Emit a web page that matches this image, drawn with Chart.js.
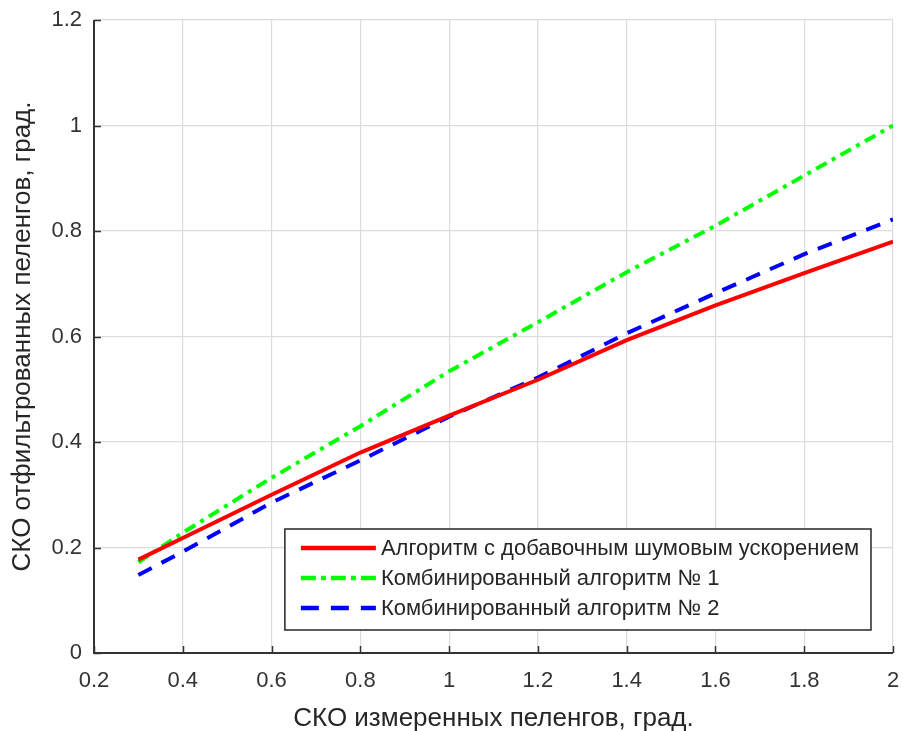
<!DOCTYPE html>
<html>
<head>
<meta charset="utf-8">
<script src="https://cdn.jsdelivr.net/npm/chart.js@4.4.1/dist/chart.umd.min.js"></script>
<style>
html,body{margin:0;padding:0;background:#fff;}
#wrap{width:903px;height:731px;}
</style>
</head>
<body>
<div id="wrap"><canvas id="c" width="903" height="731"></canvas></div>
<script>
const xValues = [0.3, 0.4, 0.6, 0.8, 1.0, 1.2, 1.4, 1.6, 1.8, 2.0];
const redValues = [0.177, 0.218, 0.300, 0.380, 0.450, 0.518, 0.593, 0.659, 0.720, 0.780];
const greenValues = [0.172, 0.228, 0.332, 0.430, 0.534, 0.627, 0.722, 0.810, 0.905, 1.000];
const blueValues = [0.148, 0.192, 0.285, 0.365, 0.448, 0.522, 0.606, 0.682, 0.756, 0.822];
const seriesNames = [
  'Алгоритм с добавочным шумовым ускорением',
  'Комбинированный алгоритм № 1',
  'Комбинированный алгоритм № 2'
];
const xTitle = 'СКО измеренных пеленгов, град.';
const yTitle = 'СКО отфильтрованных пеленгов, град.';

const FONT = '"Liberation Sans", Arial, sans-serif';
const pts = v => xValues.map((x, i) => ({x: x, y: v[i]}));

const inwardTicks = {
  id: 'inwardTicks',
  afterDraw(chart) {
    const ctx = chart.ctx, a = chart.chartArea;
    const xs = chart.scales.x, ys = chart.scales.y;
    ctx.save();
    ctx.strokeStyle = '#333333';
    ctx.lineWidth = 1.5;
    ctx.beginPath();
    xs.ticks.forEach(t => {
      const px = Math.round(xs.getPixelForValue(t.value)) + 0.5;
      ctx.moveTo(px, a.bottom); ctx.lineTo(px, a.bottom - 7);
    });
    ys.ticks.forEach(t => {
      const py = Math.round(ys.getPixelForValue(t.value)) + 0.5;
      ctx.moveTo(a.left, py); ctx.lineTo(a.left + 7, py);
    });
    ctx.stroke();
    ctx.lineWidth = 2;
    ctx.beginPath();
    ctx.moveTo(a.left, a.top); ctx.lineTo(a.left, a.bottom); ctx.lineTo(a.right, a.bottom);
    ctx.stroke();
    ctx.restore();
  }
};

const boxLegend = {
  id: 'boxLegend',
  afterDatasetsDraw(chart) {
    const ctx = chart.ctx, a = chart.chartArea;
    const ds = chart.data.datasets;
    ctx.save();
    ctx.font = '22px ' + FONT;
    let maxW = 0;
    ds.forEach(d => { maxW = Math.max(maxW, ctx.measureText(d.label).width); });
    const lineLen = 75, gap = 5, padL = 16, padR = 12, rowH = 30;
    const w = padL + lineLen + gap + maxW + padR;
    const h = 101;
    const right = a.right - 22, bottom = a.bottom - 23;
    const left = right - w, top = bottom - h;
    ctx.fillStyle = '#fff';
    ctx.fillRect(left, top, w, h);
    ctx.strokeStyle = '#262626';
    ctx.lineWidth = 1.5;
    ctx.strokeRect(left, top, w, h);
    ds.forEach((d, i) => {
      const cy = top + 19 + i * rowH;
      ctx.beginPath();
      ctx.strokeStyle = d.borderColor;
      ctx.lineWidth = d.borderWidth + 0.5;
      ctx.setLineDash(d.legendDash || []);
      ctx.moveTo(left + padL, cy); ctx.lineTo(left + padL + lineLen, cy);
      ctx.stroke();
      ctx.setLineDash([]);
      ctx.fillStyle = '#262626';
      ctx.textBaseline = 'middle';
      ctx.textAlign = 'left';
      ctx.fillText(d.label, left + padL + lineLen + gap, cy + 1);
    });
    ctx.restore();
  }
};

new Chart(document.getElementById('c'), {
  type: 'line',
  data: {
    datasets: [
      {label: seriesNames[0], data: pts(redValues), borderColor: '#ff0000', borderWidth: 4, pointRadius: 0, fill: false, tension: 0},
      {label: seriesNames[1], data: pts(greenValues), borderColor: '#00ff00', borderWidth: 4, borderDash: [12, 6, 4, 6], legendDash: [15, 5, 5, 5], pointRadius: 0, fill: false, tension: 0},
      {label: seriesNames[2], data: pts(blueValues), borderColor: '#0000ff', borderWidth: 4, borderDash: [15, 11], legendDash: [18, 12], pointRadius: 0, fill: false, tension: 0}
    ]
  },
  options: {
    responsive: false,
    animation: false,
    devicePixelRatio: 1,
    layout: {padding: {top: 20, right: 10, left: 0, bottom: 0}},
    plugins: {legend: {display: false}, tooltip: {enabled: false}},
    scales: {
      x: {
        type: 'linear', min: 0.2, max: 2,
        ticks: {stepSize: 0.2, color: '#333333', font: {family: FONT, size: 22}, padding: 15, maxRotation: 0,
          callback: v => Number(v.toFixed(1)).toString()},
        grid: {color: '#dcdcdc', lineWidth: 1.2, drawTicks: false},
        border: {display: false},
        title: {display: true, text: xTitle, color: '#262626', font: {family: FONT, size: 26}, padding: {top: 0, bottom: -3}},
        afterFit: s => { s.height = 78; s.paddingLeft = 0; s.paddingRight = 0; }
      },
      y: {
        type: 'linear', min: 0, max: 1.2,
        ticks: {stepSize: 0.2, color: '#333333', font: {family: FONT, size: 22}, padding: 12,
          callback: v => Number(v.toFixed(1)).toString()},
        grid: {color: '#dcdcdc', lineWidth: 1.2, drawTicks: false},
        border: {display: false},
        title: {display: true, text: yTitle, color: '#262626', font: {family: FONT, size: 26}, padding: {top: 7, bottom: 0}},
        afterFit: s => { s.width = 94; s.paddingTop = 0; s.paddingBottom = 0; }
      }
    }
  },
  plugins: [inwardTicks, boxLegend]
});
</script>
</body>
</html>
